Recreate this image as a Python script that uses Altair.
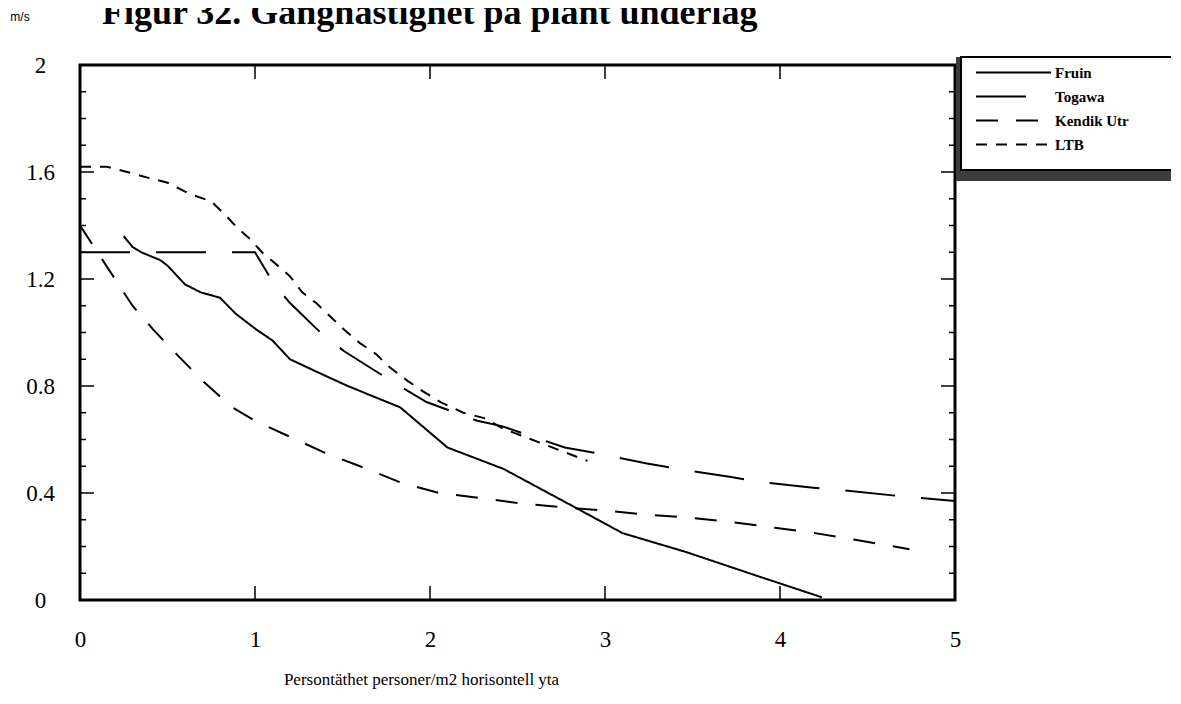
import altair as alt
import pandas as pd

# ---- data ----
series = ["Fruin", "Togawa", "Kendik Utr", "LTB"]

fruin_x = [0.25, 0.30, 0.35, 0.46, 0.50, 0.60, 0.69, 0.80, 0.89, 1.01, 1.10, 1.20, 1.33, 1.53, 1.68, 1.83, 2.10, 2.42, 2.79, 3.10, 3.46, 3.87, 4.24]
fruin_y = [1.36, 1.32, 1.30, 1.27, 1.25, 1.18, 1.15, 1.13, 1.07, 1.01, 0.97, 0.90, 0.86, 0.80, 0.76, 0.72, 0.57, 0.49, 0.36, 0.25, 0.18, 0.09, 0.01]

togawa_x = [0.0, 1.00, 1.11, 1.20, 1.39, 1.51, 1.80, 1.98, 2.27, 2.41, 2.77, 2.94, 3.24, 3.42, 3.72, 3.90, 4.19, 4.37, 4.66, 5.00]
togawa_y = [1.30, 1.30, 1.18, 1.11, 0.99, 0.93, 0.81, 0.74, 0.67, 0.65, 0.57, 0.55, 0.51, 0.49, 0.46, 0.44, 0.42, 0.41, 0.39, 0.37]

kendik_x = [0.0, 0.20, 0.30, 0.42, 0.55, 0.70, 0.87, 1.00, 1.20, 1.40, 1.60, 1.83, 2.05, 2.30, 2.53, 2.79, 3.02, 3.26, 3.50, 3.74, 3.97, 4.20, 4.43, 4.74]
kendik_y = [1.40, 1.20, 1.10, 1.01, 0.92, 0.82, 0.72, 0.67, 0.61, 0.55, 0.50, 0.44, 0.40, 0.38, 0.36, 0.345, 0.333, 0.318, 0.307, 0.29, 0.27, 0.25, 0.225, 0.19]

ltb_x = [0.0, 0.15, 0.27, 0.38, 0.50, 0.62, 0.75, 0.83, 0.90, 0.97, 1.04, 1.13, 1.20, 1.27, 1.35, 1.43, 1.51, 1.60, 1.69, 1.77, 1.87, 1.96, 2.06, 2.19, 2.31, 2.42, 2.78, 2.90]
ltb_y = [1.62, 1.62, 1.60, 1.58, 1.56, 1.52, 1.49, 1.44, 1.39, 1.35, 1.30, 1.25, 1.21, 1.15, 1.11, 1.06, 1.01, 0.96, 0.92, 0.87, 0.82, 0.78, 0.74, 0.70, 0.68, 0.64, 0.55, 0.52]

x_ticks = [0, 1, 2, 3, 4, 5]
y_ticks = [0, 0.4, 0.8, 1.2, 1.6, 2]
y_minor = [0.1, 0.2, 0.3, 0.5, 0.6, 0.7, 0.9, 1.0, 1.1, 1.3, 1.4, 1.5, 1.7, 1.8, 1.9]
y_major = [0.4, 0.8, 1.2, 1.6]
x_major = [1, 2, 3, 4]

title_text = "Figur 32. Ganghastighet på plant underlag"
unit_text = "m/s"
x_title = "Persontäthet personer/m2 horisontell yta"

rows = []
for name, xs, ys in [("Fruin", fruin_x, fruin_y), ("Togawa", togawa_x, togawa_y),
                     ("Kendik Utr", kendik_x, kendik_y), ("LTB", ltb_x, ltb_y)]:
    for i, (a, b) in enumerate(zip(xs, ys)):
        rows.append({"serie": name, "x": a, "y": b, "i": i})
df = pd.DataFrame(rows)

W, H = 875, 535
SERIF = "Liberation Serif"

xscale = alt.Scale(domain=[0, 5], nice=False, zero=False)
yscale = alt.Scale(domain=[0, 2], nice=False, zero=False)

x_axis = alt.Axis(values=x_ticks, format="d", title=x_title, grid=False, domain=False,
                  ticks=False, labelFlush=False, labelPadding=28, labelFontSize=23,
                  labelFont=SERIF, labelColor="black", titleFont=SERIF, titleFontSize=17,
                  titleFontWeight="normal", titleColor="black", titleX=341, titleY=84,
                  titleAlign="center", titleBaseline="alphabetic")
y_axis = alt.Axis(values=y_ticks, format="~g", title=None, grid=False, domain=False,
                  ticks=False, labelFlush=False, labelPadding=40, labelAlign="center",
                  labelFontSize=23, labelFont=SERIF, labelColor="black")


def X(field):
    return alt.X(field, type="quantitative", scale=xscale, axis=x_axis)


def Y(field):
    return alt.Y(field, type="quantitative", scale=yscale, axis=y_axis)


lines = alt.Chart(df).mark_line(color="black", strokeWidth=2).encode(
    x=X("x"),
    y=Y("y"),
    strokeDash=alt.StrokeDash(
        "serie:N",
        scale=alt.Scale(domain=series, range=[[1, 0], [50, 26], [22, 18], [11, 9]]),
        legend=alt.Legend(orient="none", legendX=918, legendY=-8, title=None,
                          symbolType="M-5,0L5,0", symbolSize=225,
                          symbolStrokeWidth=2, symbolStrokeColor="black",
                          labelFont=SERIF, labelFontWeight="bold",
                          labelFontSize=15, labelColor="black",
                          rowPadding=7, padding=7, labelOffset=33)),
    order="i:Q",
)


def ticks_y(vals, x0, x1):
    return alt.Chart(pd.DataFrame({"y": vals})).mark_rule(color="black", strokeWidth=1.5).encode(
        y=Y("y"), x=alt.value(x0), x2=alt.value(x1))


def ticks_x(vals, y0, y1):
    return alt.Chart(pd.DataFrame({"x": vals})).mark_rule(color="black", strokeWidth=1.5).encode(
        x=X("x"), y=alt.value(y0), y2=alt.value(y1))


tick_layers = [
    ticks_y(y_minor, 0, 6), ticks_y(y_major, 0, 14),
    ticks_y(y_minor, W, W - 6), ticks_y(y_major, W, W - 14),
    ticks_x(x_major, 0, 14), ticks_x(x_major, H, H - 14),
]

one = pd.DataFrame({"k": [0]})
shadow = alt.Chart(one).mark_rect(fill="#3c3c3c").encode(
    x=alt.value(876), x2=alt.value(1230), y=alt.value(-8), y2=alt.value(116))
box = alt.Chart(one).mark_rect(fill="white", stroke="black", strokeWidth=2).encode(
    x=alt.value(881), x2=alt.value(1230), y=alt.value(-8), y2=alt.value(105))

title = alt.Chart(pd.DataFrame({"t": [title_text]})).mark_text(
    align="left", baseline="alphabetic", font=SERIF, fontWeight="bold", fontSize=36, color="black"
).encode(text="t:N", x=alt.value(22), y=alt.value(-41))

unit = alt.Chart(pd.DataFrame({"t": [unit_text]})).mark_text(
    align="center", baseline="middle", font="Liberation Sans", fontSize=12, color="black"
).encode(text="t:N", x=alt.value(-60), y=alt.value(-48))

chart = alt.layer(lines, *tick_layers, shadow, box, title, unit).properties(
    width=W, height=H,
    autosize=alt.AutoSizeParams(type="none"),
    padding={"left": 72, "top": 57, "right": 216, "bottom": 92},
    background="white",
).configure_view(stroke="black", strokeWidth=3)

chart.save("out.html", embed_options={"renderer": "svg", "actions": False})
